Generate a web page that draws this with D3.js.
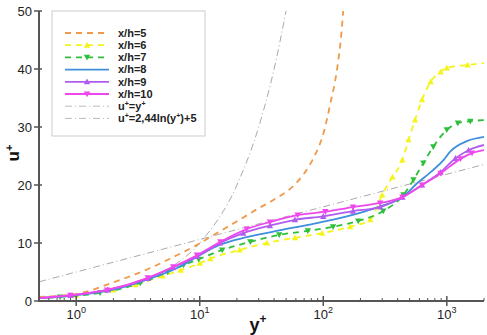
<!DOCTYPE html>
<html>
<head>
<meta charset="utf-8">
<script src="https://cdn.jsdelivr.net/npm/d3@7"></script>
<style>
  body { margin: 0; background: #fff; }
  svg { display: block; font-family: "Liberation Sans", Arial, sans-serif; }
</style>
</head>
<body>
<svg id="chart" width="487" height="335"></svg>
<script>
// values: [y+, u+]
var xh5  = [[0.5,0.7],[1,1.2],[2,3.2],[3,4.6],[4,5.7],[6,7.5],[9,9.4],[14,11.8],[21,14],[30,16],[40,17.5],[55,19.5],[70,22],[85,25],[100,28.8],[114,34],[130,40.3],[140,46],[145,50]];
var xh6  = [[0.5,0.5],[1,1],[2,1.9],[3,2.8],[5,4.3],[7,5.3],[10,6.5],[12.2,7.3],[21,8.8],[35,10],[59,10.9],[98,11.7],[165,12.8],[240,14],[300,18.3],[363,21.4],[437,24.3],[490,27.8],[553,31.2],[630,34.7],[740,37.8],[890,39.5],[1000,40.2],[1470,40.7],[2000,41]];
var xh7  = [[0.5,0.5],[0.74,0.7],[1.56,1.4],[3.3,3.1],[5.5,5.0],[7.4,6.2],[9.8,7.2],[15.2,8.8],[25.7,10.2],[44,11.4],[75,12.1],[120,12.8],[192,13.8],[306,15.5],[446,18.3],[537,20.9],[646,23.8],[777,26.6],[1000,29.5],[1230,30.7],[1550,31.0],[2000,31.2]];
var xh8  = [[0.5,0.5],[1,1],[2,1.95],[4,3.9],[6.9,5.9],[10,7.9],[14.6,9.7],[24,11],[45,12.2],[83,13.3],[130,14.2],[228,15.6],[306,16.5],[437,17.9],[575,20.3],[777,22.6],[940,24.3],[1070,25.8],[1470,27.6],[2000,28.3]];
var xh9  = [[0.5,0.5],[0.9,0.95],[1.8,1.9],[3.8,3.9],[6.1,5.8],[9.5,7.7],[14.6,10],[22.5,11.7],[37,13],[59,14],[100,14.6],[174,15.5],[289,16.2],[437,17.9],[630,20],[890,22.2],[1175,24.6],[1500,26],[2000,26.9]];
var xh10 = [[0.5,0.5],[0.9,1.0],[1.78,1.9],[3.8,4.0],[6.1,5.9],[9.5,7.9],[14.7,10.2],[24,12.4],[37,13.6],[62,14.8],[104,15.4],[174,16.2],[289,16.9],[437,17.9],[630,20],[890,22],[1290,24.5],[1600,25.5],[2000,26]];
var linearLaw = [[5,5],[10,10],[20,20],[30,30],[40,40],[50,50]];
var logLaw = [0.5, 1, 2, 5, 10, 20, 50, 100, 200, 500, 1000, 2000].map(function(y) { return [y, 2.44 * Math.log(y) + 5]; });

var seriesNames = ["x/h=5", "x/h=6", "x/h=7", "x/h=8", "x/h=9", "x/h=10"];
var xTicks = [1, 10, 100, 1000];
var xTickExp = ["0", "1", "2", "3"];
var yTicks = [0, 10, 20, 30, 40, 50];

var series = [
  { name: seriesNames[0], data: xh5,  color: "#f0994a", dash: "6,5", marker: null },
  { name: seriesNames[1], data: xh6,  color: "#f4f41c", dash: "6,5", marker: "up" },
  { name: seriesNames[2], data: xh7,  color: "#2fbf3a", dash: "6,5", marker: "down" },
  { name: seriesNames[3], data: xh8,  color: "#3f8fdc", dash: null,  marker: null },
  { name: seriesNames[4], data: xh9,  color: "#b05cf0", dash: null,  marker: "up" },
  { name: seriesNames[5], data: xh10, color: "#f046ee", dash: null,  marker: "down" }
];

var svg = d3.select("#chart");
var x = d3.scaleLog().domain([0.5, 2000]).range([39, 484]);
var y = d3.scaleLinear().domain([0, 50]).range([301, 11]);

svg.append("clipPath").attr("id", "clip")
  .append("rect").attr("x", 39).attr("y", 11).attr("width", 445).attr("height", 290);

var line = d3.line()
  .x(function(d) { return x(d[0]); })
  .y(function(d) { return y(d[1]); })
  .curve(d3.curveMonotoneX);

var plot = svg.append("g").attr("clip-path", "url(#clip)");

// reference laws
plot.append("path").datum(logLaw).attr("d", line)
  .attr("fill", "none").attr("stroke", "#aaa").attr("stroke-width", 1)
  .attr("stroke-dasharray", "7,3,1,3");
plot.append("path").datum(linearLaw).attr("d", line)
  .attr("fill", "none").attr("stroke", "#aaa").attr("stroke-width", 1)
  .attr("stroke-dasharray", "7,3,1,3");

function tri(g, kind, cx, cy, color, s) {
  var pts = kind === "up"
    ? [[cx, cy - s], [cx + s, cy + s * 0.8], [cx - s, cy + s * 0.8]]
    : [[cx, cy + s], [cx + s, cy - s * 0.8], [cx - s, cy - s * 0.8]];
  g.append("polygon").attr("points", pts.map(function(p) { return p.join(","); }).join(" "))
    .attr("fill", color);
}

series.forEach(function(s) {
  plot.append("path").datum(s.data).attr("d", line)
    .attr("fill", "none").attr("stroke", s.color).attr("stroke-width", 1.8)
    .attr("stroke-dasharray", s.dash);
  if (s.marker) {
    s.data.forEach(function(d, i) {
      if (i === 0 || i === s.data.length - 1) return;
      tri(plot, s.marker, x(d[0]), y(d[1]), s.color, 3.2);
    });
  }
});

// axes
var axisColor = "#555";
svg.append("line").attr("x1", 39).attr("x2", 39).attr("y1", 11).attr("y2", 301)
  .attr("stroke", axisColor).attr("stroke-width", 2);
svg.append("line").attr("x1", 38).attr("x2", 484).attr("y1", 301).attr("y2", 301)
  .attr("stroke", axisColor).attr("stroke-width", 2);

yTicks.forEach(function(t) {
  svg.append("line").attr("x1", 34).attr("x2", 42).attr("y1", y(t)).attr("y2", y(t))
    .attr("stroke", axisColor).attr("stroke-width", 1.5);
  svg.append("text").attr("x", 32).attr("y", y(t)).attr("dy", "0.35em")
    .attr("text-anchor", "end").style("font-size", "13px").attr("fill", "#222").text(t);
});

// minor x ticks
var minor = [];
[0.1, 1, 10, 100, 1000].forEach(function(dec) {
  for (var k = 2; k <= 9; k++) {
    var v = dec * k;
    if (v >= 0.5 && v <= 2000 && xTicks.indexOf(v) < 0) minor.push(v);
  }
});
minor.forEach(function(v) {
  svg.append("line").attr("x1", x(v)).attr("x2", x(v)).attr("y1", 298).attr("y2", 301)
    .attr("stroke", axisColor).attr("stroke-width", 1);
});

xTicks.forEach(function(t, i) {
  svg.append("line").attr("x1", x(t)).attr("x2", x(t)).attr("y1", 296).attr("y2", 306)
    .attr("stroke", axisColor).attr("stroke-width", 1.5);
  var tx = svg.append("text").attr("x", x(t)).attr("y", 319)
    .attr("text-anchor", "middle").style("font-size", "13px").attr("fill", "#222");
  tx.append("tspan").text("10");
  tx.append("tspan").attr("dy", -6).style("font-size", "9px").text(xTickExp[i]);
});

// axis titles
var xt = svg.append("text").attr("x", 258).attr("y", 331).attr("text-anchor", "middle")
  .style("font-size", "18px").style("font-weight", "bold").attr("fill", "#111");
xt.append("tspan").text("y");
xt.append("tspan").attr("dy", -8).style("font-size", "12px").text("+");

var yt = svg.append("text").attr("transform", "translate(19,153) rotate(-90)")
  .attr("text-anchor", "middle").style("font-size", "17px").style("font-weight", "bold").attr("fill", "#111");
yt.append("tspan").text("u");
yt.append("tspan").attr("dy", -6).style("font-size", "11px").text("+");

// legend
var lg = svg.append("g");
lg.append("rect").attr("x", 52).attr("y", 11).attr("width", 153).attr("height", 125)
  .attr("fill", "#fff").attr("stroke", "#ccc").attr("stroke-width", 1);

var legendRows = series.map(function(s) { return { label: [[s.name]], color: s.color, dash: s.dash, marker: s.marker, w: 1.8 }; });
legendRows.push({ label: [["u"], ["+", true], ["=y"], ["+", true]], color: "#bbb", dash: "7,3,1,3", marker: null, w: 1 });
legendRows.push({ label: [["u"], ["+", true], ["=2,44ln(y"], ["+", true], [")+5"]], color: "#bbb", dash: "7,3,1,3", marker: null, w: 1 });

legendRows.forEach(function(r, i) {
  var cy = 33 + i * 12.2;
  lg.append("line").attr("x1", 65).attr("x2", 109).attr("y1", cy).attr("y2", cy)
    .attr("stroke", r.color).attr("stroke-width", r.w).attr("stroke-dasharray", r.dash);
  if (r.marker) tri(lg, r.marker, 87, cy, r.color, 3.2);
  var t = lg.append("text").attr("x", 118).attr("y", cy).attr("dy", "0.35em")
    .style("font-size", "11px").style("font-weight", "bold").attr("fill", "#222");
  r.label.forEach(function(p) {
    if (p[1]) t.append("tspan").attr("dy", -4).style("font-size", "7px").text(p[0]);
    else {
      var sp = t.append("tspan").text(p[0]);
      if (t.selectAll("tspan").size() > 1) sp.attr("dy", 4);
    }
  });
});
</script>
</body>
</html>
